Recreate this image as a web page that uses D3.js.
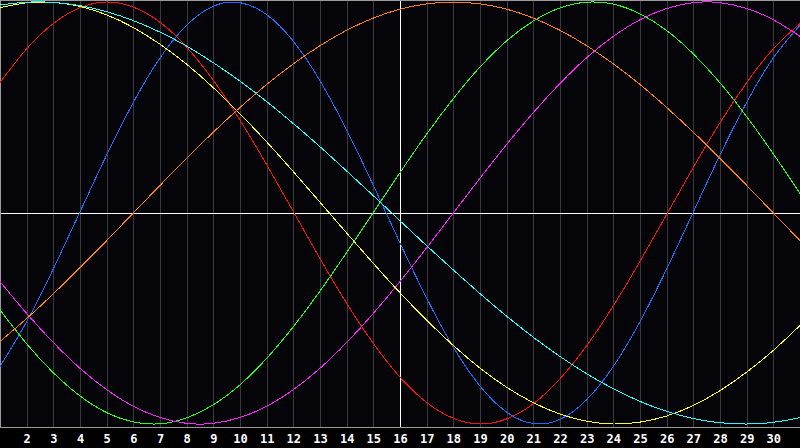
<!DOCTYPE html>
<html>
<head>
<meta charset="utf-8">
<script src="https://cdn.jsdelivr.net/npm/d3@7"></script>
<style>
  html, body { margin: 0; padding: 0; background: #000; overflow: hidden; }
  svg { display: block; }
</style>
</head>
<body>
<svg id="chart" width="800" height="448"></svg>
<script>
// days of the month shown on the x axis
const days = [1, 2, 3, 4, 5, 6, 7, 8, 9, 10, 11, 12, 13, 14, 15, 16,
  17, 18, 19, 20, 21, 22, 23, 24, 25, 26, 27, 28, 29, 30, 31];
const labelDays = [2, 3, 4, 5, 6, 7, 8, 9, 10, 11, 12, 13, 14, 15, 16,
  17, 18, 19, 20, 21, 22, 23, 24, 25, 26, 27, 28, 29, 30];
const todayDay = 16;

// cycle values per day, -100..100
const blueValues = [-72.7, -51.5, -26.5, 0.5, 27.5, 52.4, 73.5, 89.0, 98.0, 99.7, 94.0, 81.4, 62.7, 39.3, 13.1, -14.2,
  -40.3, -63.6, -82.0, -94.4, -99.8, -97.8, -88.5, -72.7, -51.5, -26.5, 0.5, 27.5, 52.4, 73.5, 89.0];
const redValues = [61.8, 77.8, 89.8, 97.3, 100.0, 97.6, 90.4, 78.6, 62.9, 44.0, 22.9, 0.7, -21.6, -42.8, -61.8, -77.8,
  -89.8, -97.3, -100.0, -97.6, -90.4, -78.6, -62.9, -44.0, -22.9, -0.7, 21.6, 42.8, 61.8, 77.8, 89.8];
const greenValues = [-46.0, -62.0, -75.7, -86.7, -94.6, -99.0, -99.9, -97.1, -90.9, -81.4, -68.9, -53.9, -37.0, -18.7, 0.2, 19.1,
  37.4, 54.2, 69.2, 81.6, 91.0, 97.2, 99.9, 99.0, 94.4, 86.5, 75.4, 61.7, 45.7, 28.0, 9.3];
const magentaValues = [-32.5, -47.6, -61.4, -73.6, -83.7, -91.6, -96.9, -99.7, -99.7, -96.9, -91.6, -83.7, -73.6, -61.4, -47.6, -32.5,
  -16.5, 0, 16.5, 32.5, 47.6, 61.4, 73.6, 83.7, 91.6, 96.9, 99.7, 99.7, 96.9, 91.6, 83.7];
const yellowValues = [97.3, 99.6, 99.8, 97.9, 93.9, 87.9, 80.0, 70.5, 59.4, 47.0, 33.7, 19.6, 5.1, -9.5, -23.9, -37.8,
  -50.8, -62.8, -73.5, -82.6, -89.9, -95.3, -98.7, -100.0, -99.1, -96.2, -91.2, -84.2, -75.4, -65.1, -53.3];
const orangeValues = [-60.9, -50.0, -38.3, -25.9, -13.1, 0, 13.1, 25.9, 38.3, 50.0, 60.9, 70.7, 79.3, 86.6, 92.4, 96.6,
  99.1, 100, 99.1, 96.6, 92.4, 86.6, 79.3, 70.7, 60.9, 50.0, 38.3, 25.9, 13.1, 0, -13.1];
const cyanValues = [98.6, 99.9, 99.8, 98.3, 95.4, 91.2, 85.7, 79.1, 71.2, 62.5, 52.8, 42.4, 31.4, 19.9, 8.2, -3.7,
  -15.5, -27.0, -38.2, -48.9, -58.9, -68.0, -76.2, -83.3, -89.3, -94.0, -97.4, -99.4, -100.0, -99.2, -97.0];

const seriesNames = ["blue", "red", "green", "magenta", "yellow", "orange", "cyan"];
const seriesColors = ["#1a6cff", "#ff1010", "#22ff22", "#ff22ff", "#ffff22", "#ff8010", "#22ffff"];
const seriesValues = [blueValues, redValues, greenValues, magentaValues, yellowValues, orangeValues, cyanValues];

const width = 800;
const plotTop = 0.5;
const plotBottom = 427.5;

const svg = d3.select("#chart");

svg.append("rect")
  .attr("width", width)
  .attr("height", 448)
  .attr("fill", "#000");

svg.append("rect")
  .attr("x", 0)
  .attr("y", 0)
  .attr("width", width)
  .attr("height", plotBottom)
  .attr("fill", "#050509");

const x = d3.scaleLinear().domain([1, 31]).range([0, width]);
const y = d3.scaleLinear().domain([-100, 100]).range([424, 2]);

// vertical day grid
svg.append("g")
  .attr("class", "grid")
  .attr("transform", `translate(0, ${plotBottom})`)
  .call(d3.axisBottom(x).tickValues(labelDays).tickSize(-(plotBottom - plotTop)).tickFormat(""))
  .call((g) => g.select(".domain").remove())
  .call((g) => g.selectAll("line")
    .attr("stroke", "#3a3a3a")
    .attr("shape-rendering", "crispEdges"));

// centre line and today marker
svg.append("line")
  .attr("x1", 0).attr("x2", width)
  .attr("y1", Math.round(y(0)) + 0.5).attr("y2", Math.round(y(0)) + 0.5)
  .attr("stroke", "#fff")
  .attr("shape-rendering", "crispEdges");

svg.append("line")
  .attr("x1", Math.round(x(todayDay)) + 0.5).attr("x2", Math.round(x(todayDay)) + 0.5)
  .attr("y1", plotTop).attr("y2", plotBottom)
  .attr("stroke", "#fff")
  .attr("shape-rendering", "crispEdges");

// border (left, top, bottom)
svg.append("path")
  .attr("d", `M${width},${plotTop}H0.5V${plotBottom}H${width}`)
  .attr("fill", "none")
  .attr("stroke", "#9a9a9a")
  .attr("shape-rendering", "crispEdges");

const line = d3.line()
  .x((d, i) => x(days[i]))
  .y((d) => y(d))
  .curve(d3.curveNatural);

svg.append("g")
  .selectAll("path")
  .data(seriesValues)
  .join("path")
  .attr("class", (d, i) => "cycle " + seriesNames[i])
  .attr("d", (d) => line(d))
  .attr("fill", "none")
  .attr("stroke", (d, i) => seriesColors[i])
  .attr("stroke-width", 1)
  .attr("shape-rendering", "crispEdges");

// day labels
svg.append("g")
  .attr("transform", `translate(0, ${plotBottom})`)
  .call(d3.axisBottom(x).tickValues(labelDays).tickSize(0).tickPadding(7).tickFormat(d3.format("d")))
  .call((g) => g.select(".domain").remove())
  .call((g) => g.selectAll("text")
    .attr("fill", "#fff")
    .attr("font-family", "DejaVu Sans Mono")
    .attr("font-weight", "bold")
    .attr("font-size", 12));
</script>
</body>
</html>
